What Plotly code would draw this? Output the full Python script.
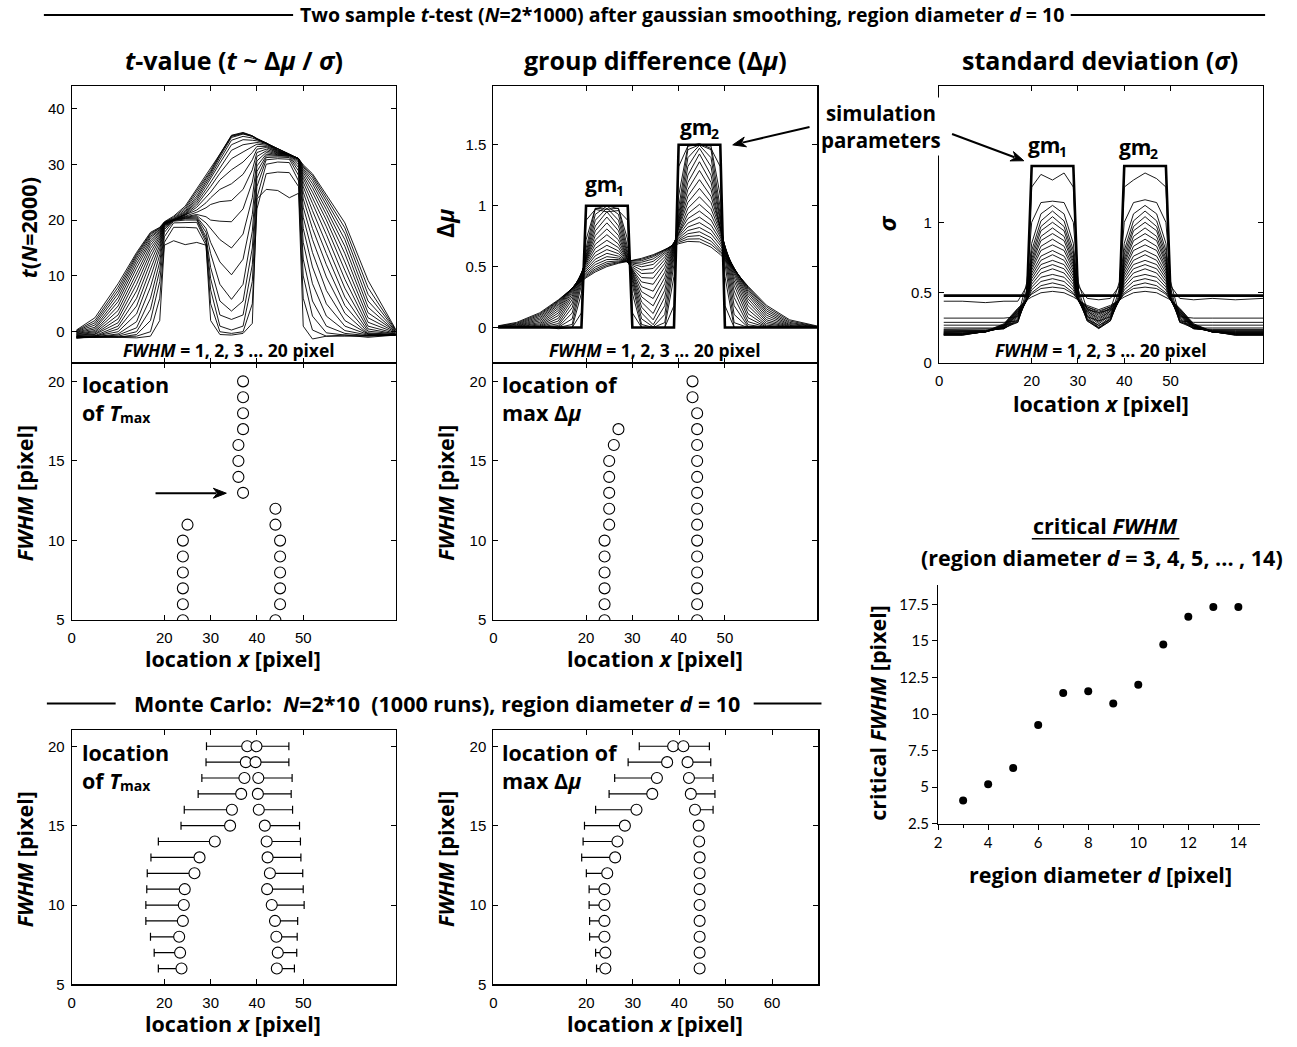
import math
import plotly.graph_objects as go

W, H = 1297, 1047
BOLD = "'Open Sans', 'Noto Sans', sans-serif"
TICKF = "'Liberation Sans', Arial, sans-serif"

# ---------------- data ----------------
X_GRID = [1, 5, 10, 14, 17, 19, 20, 22, 24.5, 27, 29, 30, 32, 34.5, 37, 39, 40, 42, 44.5, 47, 49, 50, 52, 55, 59, 64, 70]
FWHM_LEVELS = list(range(1, 21))

T_CURVES = [
    [-1.2, -0.8, -1.0, -1.1, -0.8, 2.0, 15.5, 16.3, 15.6, 16.0, 15.5, 2.0, -0.5, -0.6, -0.3, 1.5, 23.8, 25.5, 25.3, 24.0, 24.8, 1.0, -1.3, -0.8, -0.6, -1.0, -0.6],
    [-1.1, -1.0, -1.0, -0.8, 0.0, 6.0, 16.0, 18.7, 18.7, 18.6, 15.5, 5.0, 0.0, -0.3, 0.0, 5.0, 22.0, 28.3, 28.6, 28.5, 26.0, 6.0, 0.3, -0.8, -0.8, -0.8, -0.6],
    [-1.0, -1.0, -1.0, -0.5, 2.0, 9.0, 17.0, 19.5, 19.6, 19.6, 16.0, 7.5, 1.0, 0.3, 1.0, 9.0, 24.0, 30.0, 30.4, 30.3, 27.0, 10.0, 2.8, -0.2, -0.6, -0.7, -0.6],
    [-1.0, -1.0, -0.8, 0.0, 4.0, 11.0, 17.8, 19.8, 20.0, 20.0, 16.5, 9.5, 3.0, 2.2, 3.0, 12.0, 26.0, 30.8, 31.0, 30.9, 28.0, 13.0, 5.5, 1.0, -0.3, -0.7, -0.6],
    [-1.0, -0.9, -0.6, 0.7, 6.0, 12.5, 18.3, 19.9, 20.2, 20.2, 17.0, 11.5, 5.5, 3.7, 5.5, 15.0, 27.5, 31.2, 31.3, 31.2, 28.8, 16.0, 8.6, 2.8, 0.2, -0.6, -0.6],
    [-0.9, -0.9, -0.4, 1.8, 8.0, 13.8, 18.6, 20.0, 20.3, 20.4, 17.8, 14.0, 8.5, 5.8, 8.5, 18.0, 28.7, 31.5, 31.5, 31.4, 29.4, 18.5, 11.6, 5.0, 1.0, -0.5, -0.6],
    [-0.9, -0.8, 0.0, 3.2, 9.8, 14.8, 18.8, 20.0, 20.4, 20.6, 18.5, 16.0, 12.5, 10.2, 13.0, 21.0, 29.7, 31.8, 31.6, 31.5, 29.9, 20.5, 14.2, 7.4, 2.0, -0.4, -0.5],
    [-0.8, -0.8, 0.5, 4.6, 11.2, 15.5, 19.0, 20.0, 20.5, 20.8, 19.5, 18.5, 16.5, 15.0, 17.5, 24.0, 30.6, 32.1, 31.7, 31.6, 30.3, 22.3, 16.5, 9.8, 3.3, -0.4, -0.5],
    [-0.8, -0.7, 1.0, 6.0, 12.4, 16.1, 19.1, 20.0, 20.6, 21.0, 20.6, 20.0, 19.8, 19.7, 22.0, 26.8, 31.4, 32.4, 31.8, 31.6, 30.6, 23.8, 18.5, 12.0, 4.7, -0.2, -0.5],
    [-0.7, -0.5, 1.6, 7.3, 13.4, 16.6, 19.2, 20.0, 20.7, 21.4, 22.2, 22.8, 23.3, 23.5, 25.5, 29.0, 32.1, 32.7, 31.9, 31.7, 30.8, 25.0, 20.2, 14.0, 6.2, 0.1, -0.4],
    [-0.6, -0.4, 2.3, 8.5, 14.2, 17.0, 19.3, 20.0, 20.8, 21.8, 23.1, 24.0, 25.5, 26.5, 28.2, 30.8, 32.7, 33.0, 32.0, 31.7, 30.9, 26.0, 21.7, 15.8, 7.8, 0.5, -0.4],
    [-0.5, -0.2, 3.0, 9.6, 14.9, 17.3, 19.3, 20.0, 20.9, 22.3, 24.0, 25.0, 27.2, 29.0, 30.4, 32.1, 33.2, 33.2, 32.1, 31.7, 31.0, 26.8, 23.0, 17.4, 9.4, 1.0, -0.3],
    [-0.4, 0.0, 3.8, 10.6, 15.5, 17.6, 19.4, 20.0, 21.0, 22.7, 24.8, 26.0, 28.4, 31.0, 32.2, 33.1, 33.6, 33.4, 32.2, 31.7, 31.0, 27.5, 24.1, 18.8, 11.0, 1.7, -0.2],
    [-0.3, 0.2, 4.6, 11.4, 16.0, 17.8, 19.4, 20.0, 21.1, 23.1, 25.5, 26.8, 29.4, 32.5, 33.5, 33.8, 33.9, 33.6, 32.3, 31.7, 31.0, 28.0, 25.0, 20.0, 12.5, 2.5, -0.1],
    [-0.2, 0.5, 5.4, 12.1, 16.4, 18.0, 19.4, 20.0, 21.2, 23.5, 26.1, 27.4, 30.2, 33.5, 34.4, 34.3, 34.2, 33.7, 32.4, 31.7, 31.0, 28.5, 25.8, 21.0, 14.0, 3.4, 0.0],
    [-0.1, 0.8, 6.1, 12.7, 16.8, 18.2, 19.5, 20.1, 21.4, 23.9, 26.6, 27.9, 30.8, 34.3, 35.0, 34.7, 34.4, 33.8, 32.5, 31.7, 31.0, 28.9, 26.5, 21.9, 15.3, 4.4, 0.0],
    [0.0, 1.2, 6.8, 13.2, 17.1, 18.3, 19.5, 20.2, 21.6, 24.3, 27.0, 28.3, 31.3, 34.8, 35.4, 35.0, 34.5, 33.8, 32.6, 31.7, 31.0, 29.2, 27.1, 22.7, 16.5, 5.5, 0.1],
    [0.1, 1.6, 7.4, 13.6, 17.4, 18.5, 19.6, 20.3, 21.9, 24.8, 27.4, 28.6, 31.6, 35.1, 35.6, 35.1, 34.6, 33.8, 32.7, 31.8, 31.0, 29.5, 27.6, 23.4, 17.6, 6.7, 0.2],
    [0.2, 2.0, 8.0, 13.9, 17.6, 18.6, 19.6, 20.5, 22.2, 25.2, 27.7, 28.9, 31.8, 35.2, 35.7, 35.1, 34.6, 33.8, 32.8, 31.8, 31.0, 29.7, 28.0, 24.0, 18.6, 7.9, 0.3],
    [0.3, 2.5, 8.6, 14.2, 17.8, 18.7, 19.7, 20.7, 22.5, 25.6, 28.0, 29.1, 31.8, 35.0, 35.5, 35.0, 34.5, 33.7, 32.8, 31.8, 31.0, 29.9, 28.3, 24.5, 19.5, 9.2, 0.4],
]

DMU_CURVES = [
    [0, 0, 0.01, -0.01, 0, .12, .88, .97, .95, .96, .88, .12, 0, 0, 0, .18, 1.32, 1.49, 1.51, 1.47, 1.32, .18, 0, 0, 0, 0, 0],
    [0, 0, 0, 0, 0, .28, .72, .98, .97, .98, .72, .28, 0, 0, 0, .42, 1.08, 1.49, 1.50, 1.49, 1.08, .42, 0, 0, 0, 0, 0],
    [0, 0, 0, 0, .025, .35, .65, .975, 1.0, .975, .65, .35, .025, 0, .04, .52, .98, 1.46, 1.50, 1.46, .98, .52, .04, 0, 0, 0, 0],
    [0, 0, 0, .001, .071, .384, .616, .929, .997, .929, .616, .384, .071, .005, .107, .576, .924, 1.394, 1.496, 1.394, .924, .576, .107, .002, 0, 0, 0],
    [0, 0, 0, .005, .119, .407, .593, .881, .981, .881, .593, .407, .119, .023, .179, .611, .890, 1.322, 1.472, 1.322, .890, .611, .179, .008, 0, 0, 0],
    [0, 0, 0, .016, .164, .422, .578, .834, .950, .834, .578, .422, .167, .063, .248, .633, .867, 1.251, 1.425, 1.251, .867, .633, .246, .023, 0, 0, 0],
    [0, 0, .001, .032, .200, .433, .566, .794, .907, .794, .566, .435, .209, .115, .306, .651, .849, 1.191, 1.361, 1.191, .849, .650, .300, .048, .002, 0, 0],
    [0, 0, .003, .053, .231, .441, .556, .755, .859, .755, .558, .446, .252, .178, .361, .665, .835, 1.133, 1.289, 1.133, .834, .662, .347, .080, .004, 0, 0],
    [0, 0, .007, .075, .256, .445, .546, .718, .809, .719, .551, .455, .294, .238, .409, .674, .822, 1.078, 1.214, 1.077, .819, .668, .384, .113, .010, 0, 0],
    [0, 0, .013, .098, .276, .446, .535, .683, .762, .685, .545, .465, .335, .298, .453, .682, .810, 1.027, 1.142, 1.025, .803, .669, .414, .147, .019, .001, 0],
    [0, .001, .021, .119, .293, .445, .522, .650, .716, .656, .540, .477, .374, .355, .494, .689, .795, .979, 1.073, .975, .783, .668, .440, .179, .032, .002, 0],
    [0, .002, .031, .139, .305, .442, .508, .618, .675, .629, .537, .489, .410, .405, .528, .694, .781, .934, 1.011, .927, .762, .663, .458, .209, .047, .003, 0],
    [.001, .004, .042, .157, .314, .435, .494, .589, .640, .606, .537, .498, .443, .448, .557, .695, .770, .894, .956, .883, .742, .653, .471, .236, .063, .007, 0],
    [.001, .007, .055, .173, .320, .428, .479, .561, .609, .586, .536, .510, .472, .485, .581, .697, .757, .857, .906, .840, .719, .642, .479, .260, .082, .011, .001],
    [.002, .011, .067, .187, .323, .420, .465, .538, .582, .570, .537, .520, .499, .518, .602, .696, .744, .825, .861, .803, .696, .629, .485, .280, .101, .017, .001],
    [.003, .016, .079, .198, .324, .412, .451, .517, .558, .558, .538, .529, .519, .543, .615, .694, .732, .796, .821, .769, .674, .616, .486, .297, .119, .024, .002],
    [.005, .022, .091, .207, .324, .404, .438, .497, .539, .547, .539, .536, .536, .563, .627, .691, .720, .770, .786, .737, .653, .602, .485, .311, .136, .033, .004],
    [.008, .028, .102, .216, .323, .395, .427, .481, .524, .539, .541, .541, .549, .580, .634, .685, .710, .747, .755, .709, .634, .588, .483, .323, .152, .042, .006],
    [.011, .035, .112, .221, .322, .387, .417, .468, .511, .533, .542, .547, .560, .590, .638, .681, .699, .726, .728, .683, .616, .574, .480, .331, .168, .053, .008],
    [.014, .042, .121, .227, .320, .380, .408, .456, .500, .527, .542, .550, .568, .598, .640, .673, .688, .707, .703, .660, .599, .560, .475, .339, .182, .063, .012],
]

SIGMA_CURVES = [
    [.44, .44, .43, .44, .44, .55, 1.25, 1.34, 1.30, 1.35, 1.25, .55, .46, .45, .46, .55, 1.25, 1.30, 1.35, 1.31, 1.25, .55, .46, .45, .46, .45, .46],
    [.32, .32, .32, .32, .33, .58, 1.00, 1.14, 1.15, 1.14, 1.00, .58, .38, .36, .38, .58, 1.00, 1.14, 1.16, 1.14, 1.00, .58, .33, .32, .32, .32, .32],
    [.29, .29, .29, .29, .30, .53, .85, 1.06, 1.12, 1.06, .85, .53, .33, .30, .33, .53, .85, 1.06, 1.12, 1.06, .85, .53, .30, .29, .29, .29, .29],
    [.27, .27, .27, .27, .29, .50, .80, 1.01, 1.08, 1.01, .80, .50, .31, .27, .31, .50, .80, 1.01, 1.08, 1.01, .80, .50, .29, .27, .27, .27, .27],
    [.25, .25, .25, .25, .29, .48, .77, .97, 1.04, .97, .77, .48, .30, .25, .30, .48, .77, .97, 1.04, .97, .77, .48, .29, .25, .25, .25, .25],
    [.24, .24, .24, .245, .30, .47, .74, .94, 1.00, .94, .74, .47, .30, .245, .30, .47, .74, .94, 1.00, .94, .74, .47, .30, .245, .24, .24, .24],
    [.235, .235, .235, .245, .31, .46, .72, .90, .96, .90, .72, .46, .31, .25, .31, .46, .72, .90, .96, .90, .72, .46, .31, .245, .235, .235, .235],
    [.23, .23, .232, .245, .32, .45, .70, .87, .92, .87, .70, .45, .32, .255, .32, .45, .70, .87, .92, .87, .70, .45, .32, .245, .232, .23, .23],
    [.226, .226, .228, .25, .33, .45, .68, .83, .88, .83, .68, .45, .33, .265, .33, .45, .68, .83, .88, .83, .68, .45, .33, .25, .228, .226, .226],
    [.222, .222, .226, .25, .34, .45, .66, .80, .84, .80, .66, .45, .34, .28, .34, .45, .66, .80, .84, .80, .66, .45, .34, .25, .226, .222, .222],
    [.219, .219, .224, .255, .345, .45, .64, .76, .80, .76, .64, .45, .35, .29, .35, .45, .64, .76, .80, .76, .64, .45, .345, .255, .224, .219, .219],
    [.216, .216, .222, .255, .35, .45, .62, .73, .77, .73, .62, .45, .36, .30, .36, .45, .62, .73, .77, .73, .62, .45, .35, .255, .222, .216, .216],
    [.213, .213, .222, .26, .355, .45, .60, .70, .73, .70, .60, .45, .37, .31, .37, .45, .60, .70, .73, .70, .60, .45, .355, .26, .222, .213, .213],
    [.21, .21, .222, .26, .36, .45, .58, .67, .70, .67, .58, .45, .37, .32, .37, .45, .58, .67, .70, .67, .58, .45, .36, .26, .222, .21, .21],
    [.208, .208, .222, .265, .365, .45, .56, .64, .67, .64, .56, .45, .38, .33, .38, .45, .56, .64, .67, .64, .56, .45, .365, .265, .222, .208, .208],
    [.206, .206, .222, .265, .37, .45, .54, .61, .63, .61, .54, .45, .39, .34, .39, .45, .54, .61, .63, .61, .54, .45, .37, .265, .222, .206, .206],
    [.204, .204, .223, .27, .375, .45, .52, .58, .60, .58, .52, .45, .39, .35, .39, .45, .52, .58, .60, .58, .52, .45, .375, .27, .223, .204, .204],
    [.202, .202, .224, .27, .38, .45, .50, .55, .57, .55, .50, .45, .40, .36, .40, .45, .50, .55, .57, .55, .50, .45, .38, .27, .224, .202, .202],
    [.200, .200, .225, .275, .385, .45, .49, .53, .54, .53, .49, .45, .40, .37, .40, .45, .49, .53, .54, .53, .49, .45, .385, .275, .225, .200, .200],
    [.198, .198, .226, .28, .39, .45, .47, .50, .51, .50, .47, .45, .41, .38, .41, .45, .47, .50, .51, .50, .47, .45, .39, .28, .226, .198, .198],
]

# simulation parameters (thick lines)
PARAM_X = [1, 19, 20, 29, 30, 39, 40, 49, 50, 70]
PARAM_DMU = [0, 0, 1, 1, 0, 0, 1.5, 1.5, 0, 0]
PARAM_SIGMA = [0.48, 0.48, 1.4, 1.4, 0.48, 0.48, 1.4, 1.4, 0.48, 0.48]

# location of T_max (N = 2*1000)
TMAX_FWHM_A = [5, 6, 7, 8, 9, 10, 11]
TMAX_X_A = [24, 24, 24, 24, 24, 24, 25]
TMAX_FWHM_B = [5, 6, 7, 8, 9, 10, 11, 12]
TMAX_X_B = [44, 45, 45, 45, 45, 45, 44, 44]
TMAX_FWHM_C = [13, 14, 15, 16, 17, 18, 19, 20]
TMAX_X_C = [37, 36, 36, 36, 37, 37, 37, 37]

# location of max delta-mu (N = 2*1000)
DMAX_FWHM_A = [5, 6, 7, 8, 9, 10, 11, 12, 13, 14, 15, 16, 17]
DMAX_X_A = [24, 24, 24, 24, 24, 24, 25, 25, 25, 25, 25, 26, 27]
DMAX_FWHM_B = list(range(5, 21))
DMAX_X_B = [44, 44, 44, 44, 44, 44, 44, 44, 44, 44, 44, 44, 44, 44, 43, 43]

# Monte Carlo (N = 2*10, 1000 runs)
MC_FWHM = list(range(6, 21))
MC_T_LEFT_MEAN = [23.7, 23.4, 23.2, 24.0, 24.2, 24.4, 26.5, 27.6, 30.9, 34.2, 34.6, 36.6, 37.3, 37.6, 37.9]
MC_T_LEFT_LOW = [18.7, 17.8, 17.0, 16.0, 16.0, 16.2, 16.3, 17.1, 18.7, 23.6, 24.3, 27.3, 28.1, 29.0, 29.1]
MC_T_RIGHT_MEAN = [44.3, 44.5, 44.2, 43.9, 43.2, 42.2, 42.8, 42.3, 42.1, 41.7, 40.4, 40.2, 40.3, 39.7, 39.9]
MC_T_RIGHT_HIGH = [48.1, 48.6, 48.7, 48.8, 50.2, 50.0, 49.9, 49.5, 49.4, 49.2, 47.7, 47.4, 47.6, 46.9, 46.9]
MC_D_LEFT_MEAN = [24.1, 24.1, 23.9, 23.9, 23.9, 23.9, 24.5, 26.2, 26.7, 28.3, 30.8, 34.2, 35.2, 37.4, 38.7]
MC_D_LEFT_LOW = [22.2, 22.0, 20.7, 20.7, 20.6, 20.6, 20.0, 19.0, 19.3, 19.6, 22.0, 24.9, 26.1, 29.0, 31.4]
MC_D_RIGHT_MEAN = [44.4, 44.4, 44.4, 44.4, 44.4, 44.4, 44.4, 44.4, 44.3, 44.2, 43.4, 42.5, 42.1, 41.8, 40.9]
MC_D_RIGHT_HIGH = [45.3, 45.3, 45.3, 45.3, 45.3, 45.3, 45.3, 45.3, 45.2, 45.1, 47.3, 47.7, 47.3, 46.8, 46.5]

# critical FWHM vs region diameter
CRIT_D = [3, 4, 5, 6, 7, 8, 9, 10, 11, 12, 13, 14]
CRIT_FWHM = [4.08, 5.19, 6.3, 9.24, 11.44, 11.55, 10.71, 12.0, 14.76, 16.66, 17.32, 17.32]

# ---------------- layout geometry (pixels) ----------------
PANELS = {
    "A": (68, 393, 87, 366),
    "B": (491, 816, 87, 366),
    "C": (938, 1263, 87, 366),
    "D": (68, 393, 366, 625),
    "E": (491, 816, 366, 625),
    "F": (68, 393, 736, 992),
    "G": (491, 817, 736, 992),
    "H": (937, 1260, 590, 830),
}
AXIS_ID = {"A": "", "B": "2", "C": "3", "D": "4", "E": "5", "F": "6", "G": "7", "H": "8"}


def px(x):
    return x / W


def py(y):
    return 1 - y / H


def domains(p):
    x0, x1, y0, y1 = PANELS[p]
    return [px(x0), px(x1)], [py(y1), py(y0)]


def box_axis(**kw):
    d = dict(showline=True, linecolor="black", linewidth=1.2, mirror="allticks",
             ticks="inside", ticklen=5, tickwidth=1, tickcolor="black",
             showgrid=False, zeroline=False, fixedrange=True,
             tickfont=dict(family=TICKF, size=15, color="black"))
    d.update(kw)
    return d


fig = go.Figure()


def ax_ref(p):
    i = AXIS_ID[p]
    return "x" + i, "y" + i


def add(p, **kw):
    xa, ya = ax_ref(p)
    kw.setdefault("showlegend", False)
    kw.setdefault("hoverinfo", "skip")
    fig.add_trace(go.Scatter(xaxis=xa, yaxis=ya, **kw))


# curve families
for k, fw in enumerate(FWHM_LEVELS):
    add("A", x=X_GRID, y=T_CURVES[k], mode="lines", line=dict(color="black", width=0.9))
    add("B", x=X_GRID, y=DMU_CURVES[k], mode="lines", line=dict(color="black", width=0.9))
    add("C", x=X_GRID, y=SIGMA_CURVES[k], mode="lines", line=dict(color="black", width=0.9))
add("B", x=PARAM_X, y=PARAM_DMU, mode="lines", line=dict(color="black", width=2.6))
add("C", x=PARAM_X, y=PARAM_SIGMA, mode="lines", line=dict(color="black", width=2.6))

open_marker = dict(symbol="circle-open", size=11, color="black", line=dict(width=1.1, color="black"))
for xs, ys in [(TMAX_X_A, TMAX_FWHM_A), (TMAX_X_B, TMAX_FWHM_B), (TMAX_X_C, TMAX_FWHM_C)]:
    add("D", x=xs, y=ys, mode="markers", marker=open_marker)
for xs, ys in [(DMAX_X_A, DMAX_FWHM_A), (DMAX_X_B, DMAX_FWHM_B)]:
    add("E", x=xs, y=ys, mode="markers", marker=open_marker)

mc_marker = dict(symbol="circle", size=11, color="white", line=dict(width=1.1, color="black"))


def mc_pair(p, lm, lo, rm, hi):
    zeros = [0] * len(lm)
    add(p, x=lm, y=MC_FWHM, mode="markers", marker=mc_marker,
        error_x=dict(type="data", symmetric=False, array=zeros,
                     arrayminus=[m - l for m, l in zip(lm, lo)],
                     color="black", thickness=1.2, width=4))
    add(p, x=rm, y=MC_FWHM, mode="markers", marker=mc_marker,
        error_x=dict(type="data", symmetric=False, arrayminus=zeros,
                     array=[h - m for m, h in zip(rm, hi)],
                     color="black", thickness=1.2, width=4))


mc_pair("F", MC_T_LEFT_MEAN, MC_T_LEFT_LOW, MC_T_RIGHT_MEAN, MC_T_RIGHT_HIGH)
mc_pair("G", MC_D_LEFT_MEAN, MC_D_LEFT_LOW, MC_D_RIGHT_MEAN, MC_D_RIGHT_HIGH)

add("H", x=CRIT_D, y=CRIT_FWHM, mode="markers",
    marker=dict(symbol="circle", size=8, color="black"))

# ---------------- axes ----------------
loc_ticks = [0, 20, 30, 40, 50]
axes = {}
for p in PANELS:
    xd, yd = domains(p)
    i = AXIS_ID[p]
    axes["xaxis" + i] = dict(domain=xd, anchor="y" + i)
    axes["yaxis" + i] = dict(domain=yd, anchor="x" + i)

for p in "ABCDEFG":
    i = AXIS_ID[p]
    axes["xaxis" + i].update(box_axis(range=[0, 70], tickvals=loc_ticks, ticklabelstandoff=4))
axes["xaxis"].update(showticklabels=False)
axes["xaxis2"].update(showticklabels=False)
axes["xaxis7"].update(tickvals=[0, 20, 30, 40, 50, 60])

axes["yaxis"].update(box_axis(range=[-5.64, 43.96], tickvals=[0, 10, 20, 30, 40], ticklabelstandoff=3))
axes["yaxis2"].update(box_axis(range=[-0.293, 1.98], tickvals=[0, 0.5, 1, 1.5],
                               ticktext=["0", "0.5", "1", "1.5"], ticklabelstandoff=3))
axes["yaxis3"].update(box_axis(range=[0, 1.965], tickvals=[0, 0.5, 1], ticktext=["0", "0.5", "1"],
                               ticklabelstandoff=3))
for i in ["4", "5"]:
    axes["yaxis" + i].update(box_axis(range=[5, 21.14], tickvals=[5, 10, 15, 20], ticklabelstandoff=3))
for i in ["6", "7"]:
    axes["yaxis" + i].update(box_axis(range=[5, 21.0], tickvals=[5, 10, 15, 20], ticklabelstandoff=3))

hfont = dict(family="Lato, 'Open Sans', sans-serif", size=15, color="black")
axes["xaxis8"].update(dict(range=[2, 14.87], tickvals=[2, 4, 6, 8, 10, 12, 14], showline=True,
                           linecolor="black", linewidth=1.2, ticks="outside", ticklen=5,
                           tickcolor="black", showgrid=False, zeroline=False, mirror=False,
                           tickfont=hfont, fixedrange=True,
                           minor=dict(dtick=1, tick0=1, ticks="outside", ticklen=3, tickcolor="black")))
axes["yaxis8"].update(dict(range=[2.5, 18.79], tickvals=[2.5, 5, 7.5, 10, 12.5, 15, 17.5],
                           ticktext=["2.5", "5", "7.5", "10", "12.5", "15", "17.5"],
                           showline=True, linecolor="black", linewidth=1.2, ticks="outside",
                           ticklen=5, tickcolor="black", showgrid=False, zeroline=False,
                           mirror=False, tickfont=hfont, fixedrange=True))

# ---------------- texts ----------------
ann = []


def txt(x, y, text, size=19, xanchor="center", yanchor="middle", angle=0, bg=None, align="center"):
    d = dict(x=px(x), y=py(y), xref="paper", yref="paper", text=text, showarrow=False,
             xanchor=xanchor, yanchor=yanchor, textangle=angle, align=align,
             font=dict(family=BOLD, size=size, color="black"))
    if bg:
        d["bgcolor"] = bg
        d["borderpad"] = 1
    ann.append(d)


def gm_label(x, y, idx):
    # "gm" with a lowered small index (drawn as two plain texts)
    txt(x, y, "<b>gm</b>", size=21, xanchor="right")
    txt(x - 5, y + 7, f"<b>{idx}</b>", size=14, xanchor="left")


shapes = []


def hline(x0, x1, y, w=2):
    shapes.append(dict(type="line", xref="paper", yref="paper", x0=px(x0), x1=px(x1),
                       y0=py(y), y1=py(y), line=dict(color="black", width=w)))


def arrow(x_tail, y_tail, x_head, y_head, head_len=13, head_w=5):
    dx, dy = x_head - x_tail, y_head - y_tail
    L = math.hypot(dx, dy)
    ux, uy = dx / L, dy / L
    bx, by = x_head - ux * head_len, y_head - uy * head_len
    shapes.append(dict(type="line", xref="paper", yref="paper", x0=px(x_tail), y0=py(y_tail),
                       x1=px(bx + ux * 3), y1=py(by + uy * 3), line=dict(color="black", width=2)))
    nx, ny = -uy, ux
    pts = [(x_head, y_head), (bx + nx * head_w, by + ny * head_w),
           (bx + ux * 4, by + uy * 4), (bx - nx * head_w, by - ny * head_w)]
    path = "M " + " L ".join(f"{px(a):.5f},{py(b):.5f}" for a, b in pts) + " Z"
    shapes.append(dict(type="path", xref="paper", yref="paper", path=path,
                       fillcolor="black", line=dict(color="black", width=1)))


txt(680, 15, "<b>Two sample <i>t</i>-test (<i>N</i>=2*1000) after gaussian smoothing, region diameter <i>d</i> = 10</b>", size=19.5)
txt(231, 60, "<b><i>t</i>-value (<i>t</i> ~ Δ<i>μ</i> / <i>σ</i>)</b>", size=25)
txt(654, 60, "<b>group difference (Δ<i>μ</i>)</b>", size=25)
txt(1099, 60, "<b>standard deviation (<i>σ</i>)</b>", size=25)

txt(24, 229, "<b><i>t</i>(<i>N</i>=2000)</b>", size=21.5, angle=-90)
txt(443, 225, "<b>Δ<i>μ</i></b>", size=23, angle=-90)
txt(885, 225, "<b><i>σ</i></b>", size=24, angle=-90)
txt(20, 497, "<b><i>FWHM</i> [pixel]</b>", size=21.5, angle=-90)
txt(443, 497, "<b><i>FWHM</i> [pixel]</b>", size=21.5, angle=-90)
txt(20, 866, "<b><i>FWHM</i> [pixel]</b>", size=21.5, angle=-90)
txt(443, 866, "<b><i>FWHM</i> [pixel]</b>", size=21.5, angle=-90)
txt(876, 718, "<b>critical <i>FWHM</i> [pixel]</b>", size=21.5, angle=-90)

for (x, y) in [(230, 664), (653, 664), (1100, 407), (230, 1031), (653, 1031)]:
    txt(x, y, "<b>location <i>x</i> [pixel]</b>", size=21.5)
txt(1100, 881, "<b>region diameter <i>d</i> [pixel]</b>", size=21.5)

for x in [226, 653, 1100]:
    txt(x, 353, "<b><i>FWHM</i> = 1, 2, 3 ... 20 pixel</b>", size=17.5)

gm_label(617, 185, 1)
gm_label(712, 128, 2)
gm_label(1061, 146, 1)
gm_label(1153, 148, 2)

txt(880, 127, "<b>simulation<br>parameters</b>", size=20.5, bg="white")
arrow(808, 128, 731, 146)
arrow(951, 135, 1023, 162)

for (x0, y0) in [(76, 371), (76, 742)]:
    txt(x0, y0, "<b>location<br>of <i>T</i></b>", size=21.5, xanchor="left", yanchor="top", align="left")
    txt(x0 + 38, y0 + 50, "<b>max</b>", size=14, xanchor="left")
for (x0, y0) in [(498, 371), (498, 742)]:
    txt(x0, y0, "<b>location of<br>max Δ<i>μ</i></b>", size=21.5, xanchor="left", yanchor="top", align="left")
arrow(152, 497, 223, 497)

txt(434, 709, "<b>Monte Carlo:  <i>N</i>=2*10  (1000 runs), region diameter <i>d</i> = 10</b>", size=21.5)

txt(1105, 530, "<b>critical <i>FWHM</i></b>", size=21.5)
txt(1101, 562, "<b>(region diameter <i>d</i> = 3, 4, 5, ... , 14)</b>", size=21.5)

hline(40, 290, 15)
hline(1070, 1265, 15)
hline(43, 112, 709)
hline(752, 820, 709)
hline(1031, 1179, 543, 1.5)

fig.update_layout(width=W, height=H, margin=dict(l=0, r=0, t=0, b=0),
                  paper_bgcolor="white", plot_bgcolor="white",
                  showlegend=False, annotations=ann, shapes=shapes, **axes)

fig.write_html("out.html", config={"displayModeBar": False, "staticPlot": True},
               post_script="document.body.style.margin='0px';")
